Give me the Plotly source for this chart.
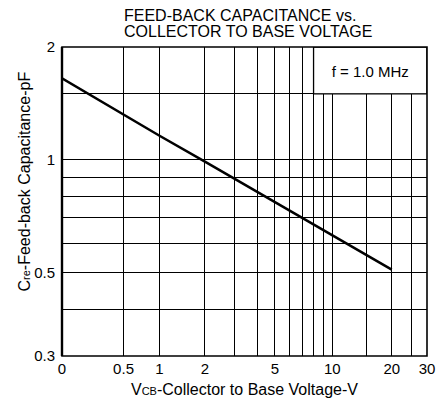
import math
import plotly.graph_objects as go

# Data
v_cb = [0, 0.5, 1, 2, 3, 5, 7, 10, 15, 20]
c_re = [1.65, 1.32, 1.16, 0.99, 0.89, 0.77, 0.70, 0.63, 0.557, 0.51]

# Axis offset used by the chart's quasi-log voltage scale
V_OFFSET = 0.5

x_grid = [0, 0.5, 1, 2, 3, 4, 5, 6, 7, 8, 9, 10, 15, 20, 25, 30]
x_labels = {0: "0", 0.5: "0.5", 1: "1", 2: "2", 5: "5", 10: "10", 20: "20", 30: "30"}
y_grid = [0.3, 0.4, 0.5, 0.6, 0.7, 0.8, 0.9, 1, 1.5, 2]
y_labels = {0.3: "0.3", 0.5: "0.5", 1: "1", 2: "2"}

title_lines = ["FEED-BACK CAPACITANCE vs.", "COLLECTOR TO BASE VOLTAGE"]

FONT = "Liberation Sans, Arial, Helvetica, sans-serif"

fig = go.Figure()
fig.add_trace(go.Scatter(
    x=[v + V_OFFSET for v in v_cb], y=c_re, mode="lines",
    line=dict(color="black", width=2.5), showlegend=False, hoverinfo="skip"))

fig.update_xaxes(
    type="log", range=[math.log10(0 + V_OFFSET), math.log10(30 + V_OFFSET)],
    tickvals=[g + V_OFFSET for g in x_grid],
    ticktext=[x_labels.get(g, "") for g in x_grid],
    showgrid=True, gridcolor="black", gridwidth=1.3,
    ticks="", showline=False, zeroline=False,
    tickfont=dict(family=FONT, size=15, color="black"),
    ticklabelstandoff=2,
)
fig.update_yaxes(
    type="log", range=[math.log10(0.3), math.log10(2)],
    tickvals=y_grid, ticktext=[y_labels.get(g, "") for g in y_grid],
    showgrid=True, gridcolor="black", gridwidth=1.3,
    ticks="", showline=False, zeroline=False,
    tickfont=dict(family=FONT, size=15, color="black"),
    ticklabelstandoff=6,
)

# f = 1.0 MHz box (covers grid)
fig.add_shape(type="rect", xref="x", yref="y",
              x0=8 + V_OFFSET, x1=30 + V_OFFSET, y0=1.5, y1=2,
              fillcolor="white", line=dict(color="black", width=1.3), layer="above",
              label=dict(text="f = 1.0 MHz", textposition="middle center",
                         font=dict(family=FONT, size=15, color="black")))
# frame
fig.add_shape(type="rect", xref="paper", yref="paper", x0=0, x1=1, y0=0, y1=1,
              line=dict(color="black", width=1.6), layer="above")
fig.add_shape(type="line", xref="paper", yref="paper", x0=0, x1=0, y0=0, y1=1,
              line=dict(color="black", width=2.4), layer="above")

# two-line title, left aligned
for txt, ys in zip(title_lines, [32, 16]):
    fig.add_annotation(text=txt, xref="paper", yref="paper", x=0.1635, y=1,
                       xanchor="left", yanchor="middle", yshift=ys,
                       showarrow=False, font=dict(family=FONT, size=16, color="black"))

fig.add_annotation(text='V<span style="font-size:11px">CB</span>-Collector to Base Voltage-V',
                   xref="paper", yref="paper", x=0.5, y=0, yanchor="top", yshift=-23,
                   showarrow=False, font=dict(family=FONT, size=16, color="black"))

fig.add_annotation(text='C<span style="font-size:11px">re</span>-Feed-back Capacitance-pF',
                   xref="paper", yref="paper", x=0, y=0.5, xanchor="center", yanchor="middle",
                   xshift=-38, yshift=20, textangle=-90,
                   showarrow=False, font=dict(family=FONT, size=16, color="black"))

fig.update_layout(
    width=446, height=401,
    margin=dict(l=62, r=11, t=47, b=45),
    plot_bgcolor="white", paper_bgcolor="white",
    font=dict(family=FONT, color="black"),
)

fig.write_html("out.html", config={"displayModeBar": False},
               post_script="document.body.style.margin='0';document.body.style.overflow='hidden';")
